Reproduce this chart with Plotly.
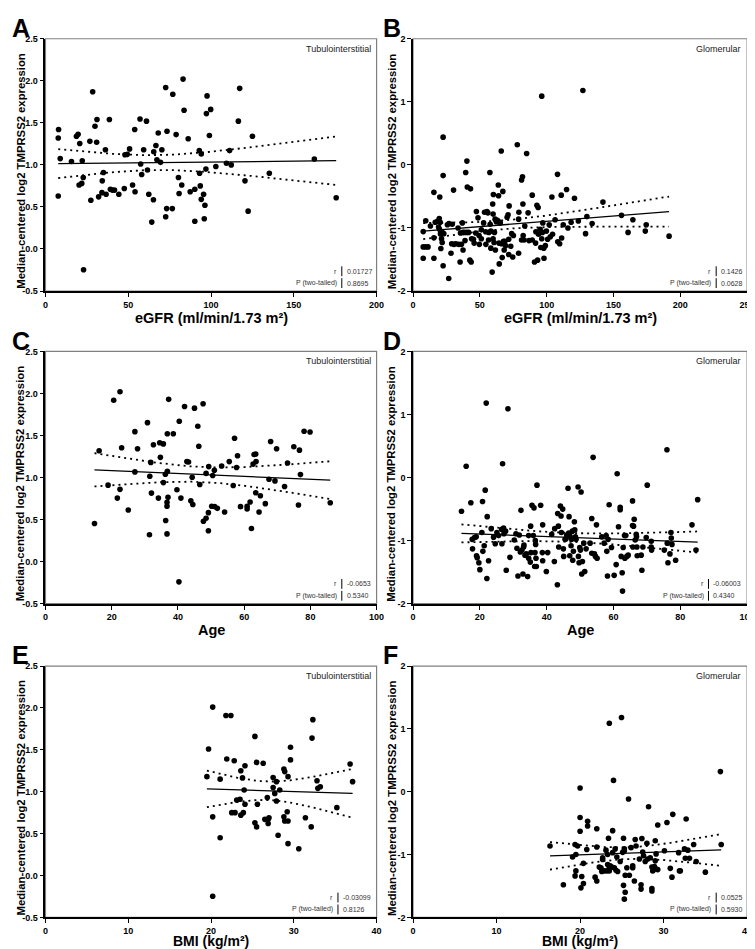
import numpy as np
import plotly.graph_objects as go

# ---------------- data ----------------
a_egfr = [7.9, 7.7, 8.9, 7.7, 15.7, 18.7, 19.7, 20.7, 20.3, 21.9, 22.2, 22.8, 23.0, 26.8, 27.4, 28.5, 29.9, 31.1, 30.9, 32.1,
          34.1, 34.3, 35.0, 36.2, 36.6, 38.6, 39.2, 40.4, 41.7, 44.3, 47.6, 48.0, 49.4, 50.8, 52.6, 54.1, 53.9, 57.1, 57.5, 58.1,
          59.3, 61.0, 61.6, 62.4, 64.2, 65.2, 65.4, 66.7, 67.3, 68.1, 69.5, 70.3, 72.6, 73.4, 72.6, 73.2, 76.6, 76.9, 78.9, 80.3,
          80.7, 82.3, 83.1, 83.7, 86.2, 87.4, 90.2, 90.2, 92.9, 93.1, 93.5, 94.1, 94.1, 95.5, 95.9, 96.3, 96.9, 97.2, 97.6, 99.0,
          99.8, 102.9, 109.3, 111.2, 112.2, 116.5, 117.3, 120.5, 122.4, 125.0, 135.2, 162.4, 175.6]
a_expr = [1.42, 1.32, 1.075, 0.63, 1.04, 1.34, 1.365, 1.255, 0.76, 0.78, 1.05, 0.85, -0.247, 1.28, 0.58, 1.87, 1.46, 1.54, 1.27, 0.62,
          0.67, 0.81, 0.91, 1.18, 0.65, 1.54, 0.71, 0.70, 0.70, 0.65, 0.72, 1.12, 1.125, 1.19, 0.76, 0.68, 1.42, 1.545, 1.01, 0.886,
          1.18, 1.52, 0.94, 0.65, 0.32, 0.585, 1.157, 1.23, 1.06, 1.38, 1.03, 1.18, 1.92, 1.40, 0.384, 0.48, 0.48, 1.84, 1.36, 0.85,
          0.66, 0.76, 2.02, 1.65, 1.31, 0.68, 0.71, 0.33, 1.17, 0.90, 0.75, 1.13, 0.59, 0.65, 0.36, 0.52, 0.95, 1.61, 1.82, 1.35,
          1.66, 0.98, 1.02, 1.17, 1.00, 1.52, 1.91, 0.81, 0.45, 1.34, 0.90, 1.07, 0.61]

b_egfr = [7.6, 7.6, 7.6, 9.5, 9.5, 11.2, 13.0, 15.6, 15.6, 15.6, 16.6, 18.3, 19.1, 19.6, 19.8, 20.0, 20.3, 20.5, 20.8, 21.3,
          21.5, 21.8, 22.5, 22.5, 22.5, 23.0, 26.7, 25.7, 26.9, 28.4, 28.9, 29.3, 30.3, 30.6, 32.0, 33.7, 34.2, 35.2, 35.5, 36.2,
          36.9, 37.2, 37.4, 38.4, 38.9, 39.4, 40.1, 40.3, 40.6, 41.6, 42.5, 43.0, 43.5, 43.8, 45.2, 45.7, 46.9, 47.4, 48.6, 49.4,
          49.6, 51.1, 51.1, 52.8, 53.5, 54.3, 54.5, 55.3, 56.0, 56.5, 56.7, 57.5, 57.7, 58.2, 58.2, 59.2, 59.6, 59.9, 59.9, 60.1,
          60.6, 60.9, 61.4, 61.6, 62.3, 63.1, 63.8, 64.0, 64.0, 64.3, 64.5, 65.3, 66.0, 66.2, 66.7, 67.2, 67.7, 68.2, 68.7, 69.2,
          70.4, 71.1, 71.6, 71.6, 71.9, 73.1, 73.8, 74.6, 75.1, 79.0, 78.0, 79.0, 79.2, 81.2, 81.2, 81.9, 82.2, 82.4, 83.1, 83.6,
          85.0, 86.1, 86.8, 89.2, 89.2, 90.9, 91.7, 91.9, 92.7, 93.2, 93.6, 93.9, 95.1, 95.6, 96.3, 96.3, 96.8, 97.1, 97.8, 98.0,
          99.0, 99.8, 100.7, 101.9, 102.7, 103.9, 104.4, 106.3, 108.1, 108.3, 109.7, 110.9, 111.2, 112.4, 114.9, 115.9, 118.3,
          120.8, 123.7, 127.1, 129.1, 130.1, 134.0, 142.1, 156.0, 160.9, 164.5, 173.8, 174.5, 191.6]
b_expr = [-1.058, -1.30, -1.48, -1.30, -0.885, -1.30, -0.97, -0.435, -1.157, -1.48, -0.91, -0.895, -0.984, -0.85, -1.02, -0.51, -0.91, -1.094, -1.325, -1.17,
          -1.06, -1.23, 0.44, -0.17, -1.60, -1.09, -1.80, -0.95, -0.93, -1.40, -1.25, -0.94, -0.40, -1.26, -1.25, -1.0, -1.26, -1.54, -1.08, -1.26,
          -0.92, -1.07, -1.35, -1.07, -1.20, -0.12, -1.07, 0.06, -0.35, -1.07, -1.51, -0.38, -1.54, -1.17, -1.18, -1.24, -1.08, -0.74, -0.84, -1.12,
          -1.26, -1.17, -1.03, -0.92, -0.75, -1.06, -1.26, -0.74, -0.76, -1.19, -1.07, -0.12, -0.94, -1.32, -1.05, -1.70, -0.62, -0.78, -1.17, -0.47,
          -1.23, -1.07, -0.86, -1.35, -0.90, -0.88, -0.32, -0.49, -0.90, -1.24, -1.57, -0.92, 0.22, -1.25, -1.47, -0.42, -1.21, -1.35, -1.21, -1.28,
          -0.83, -0.79, -1.18, -1.42, -0.65, -1.29, -1.09, -1.46, -1.12, -1.40, 0.32, -0.86, -0.75, -1.19, -0.24, -0.19, -0.62, -1.12, -1.19, -0.97,
          0.18, -0.76, -1.20, -0.48, -1.19, -1.54, -1.24, -1.06, -0.64, -1.51, -0.675, -1.10, -1.02, -1.31, 1.09, -1.17, -1.07, -0.92, -1.32, -1.48,
          -1.28, -1.05, -1.18, -0.95, -1.14, -0.51, -1.10, -0.87, -0.15, -1.22, -1.25, -0.48, -1.16, -0.95, -0.39, -1.0, -0.91,
          -0.53, -0.89, 1.18, -1.09, -0.82, -0.93, -0.59, -0.80, -1.07, -0.87, -1.05, -0.95, -1.13]

c_age = [14.8, 16.2, 18.9, 20.6, 21.7, 22.5, 22.5, 23.0, 25.0, 27.0, 27.0, 27.8, 30.8, 31.4, 31.5, 31.8, 32.0, 32.6, 34.1, 34.5,
         34.7, 35.6, 35.6, 36.2, 36.3, 36.7, 36.7, 36.7, 36.8, 36.8, 37.2, 37.0, 38.6, 39.7, 40.3, 40.4, 40.9, 42.0, 42.7, 43.2,
         43.9, 44.3, 44.5, 45.0, 46.0, 46.3, 46.6, 47.6, 47.7, 48.5, 48.5, 49.2, 49.2, 49.3, 50.2, 50.5, 51.0, 51.1, 51.9, 53.2,
         54.1, 55.5, 56.7, 57.1, 57.7, 58.0, 58.9, 60.9, 60.9, 61.8, 62.2, 62.7, 63.0, 63.5, 63.6, 63.5, 64.5, 64.9, 66.4, 67.5,
         68.0, 69.3, 69.8, 72.2, 73.1, 75.0, 76.4, 76.7, 77.0, 78.1, 79.9, 86.0]
c_expr = [0.454, 1.318, 0.91, 1.92, 0.756, 2.02, 0.86, 1.354, 0.615, 1.546, 1.067, 1.342, 1.653, 0.32, 1.016, 1.18, 0.815, 1.39, 0.756, 1.413,
          1.24, 1.40, 0.94, 1.04, 0.49, 0.33, 0.705, 0.66, 1.075, 1.52, 1.93, 0.765, 1.52, 0.855, -0.24, 1.67, 0.756, 1.845, 1.19, 1.185,
          0.725, 1.004, 0.68, 1.825, 1.61, 1.373, 0.917, 1.877, 0.48, 0.517, 1.05, 0.367, 0.583, 1.13, 0.658, 1.024, 1.087, 0.654, 0.634, 1.138,
          0.59, 1.19, 0.906, 1.468, 1.12, 1.26, 0.654, 0.627, 0.658, 0.71, 0.394, 1.16, 1.275, 1.28, 1.19, 0.82, 0.59, 0.784, 0.69, 0.98,
          1.428, 0.96, 1.342, 0.894, 1.173, 1.366, 0.674, 1.326, 1.035, 1.55, 1.542, 0.70]

d_age = [14.5, 15.9, 17.3, 17.7, 17.8, 18.4, 18.9, 19.0, 19.2, 19.7, 20.0, 20.6, 20.8, 20.9, 21.3, 21.6, 21.9, 22.1, 22.2, 22.6,
         23.4, 24.1, 24.6, 25.1, 25.6, 26.5, 26.6, 26.8, 27.1, 27.2, 27.7, 27.9, 28.4, 29.0, 30.3, 30.8, 31.1, 31.4, 31.8, 32.1,
         32.3, 32.6, 32.9, 33.1, 33.2, 33.5, 33.9, 34.3, 34.6, 34.6, 35.1, 35.2, 35.3, 35.6, 36.0, 36.2, 36.4, 36.5, 36.6, 36.7,
         36.8, 36.9, 37.1, 38.2, 38.7, 38.8, 38.8, 39.9, 40.3, 41.5, 42.3, 42.4, 43.2, 43.3, 43.5, 43.6, 44.1, 44.3, 44.4, 44.8,
         45.0, 45.1, 45.5, 45.8, 46.0, 46.4, 46.6, 46.7, 46.9, 47.0, 47.3, 47.5, 47.7, 47.8, 48.0, 48.3, 48.4, 48.6, 48.8, 49.4,
         49.5, 49.7, 49.9, 50.1, 50.3, 50.5, 50.7, 51.1, 51.4, 51.8, 53.0, 53.5, 53.5, 53.9, 54.3, 54.6, 54.9, 55.1, 56.5, 57.2,
         57.8, 58.0, 58.2, 58.4, 58.7, 59.4, 60.2, 60.8, 61.1, 61.5, 62.0, 62.0, 62.3, 62.6, 62.7, 62.9, 63.3, 63.4, 63.7, 64.0,
         64.4, 65.7, 65.7, 65.8, 66.0, 66.2, 66.5, 66.8, 66.9, 67.0, 67.1, 68.3, 68.5, 68.8, 69.8, 70.1, 71.3, 71.4, 71.3, 75.2,
         76.0, 76.1, 76.3, 76.9, 77.2, 77.3, 77.5, 78.6, 83.5, 84.7, 85.2]
d_expr = [-0.535, 0.18, -0.40, -0.98, -1.13, -0.95, -0.94, -1.24, -1.27, -1.35, -1.46, -0.87, -0.38, -1.17, -1.08, -0.20, 1.18, -1.60, -0.62, -1.32,
          -0.81, -0.945, -1.05, -0.87, -0.92, -0.82, -1.05, 0.22, -0.80, -0.89, -0.85, -1.47, 1.09, -1.265, -0.99, -0.89, -1.12, -1.56, -0.91, -1.18,
          -0.52, -1.15, -1.53, -1.10, -1.07, -1.23, -1.21, -1.57, -0.92, -1.28, -1.34, -0.77, -1.19, -0.44, -0.92, -0.48, -1.41, -1.19, -1.00, -1.06,
          -1.28, -1.41, -0.12, -0.44, -1.19, -0.75, -1.32, -1.49, -1.19, -0.90, -1.33, -0.81, -1.70, -0.57, -0.77, -1.10, -0.45, -0.61, -0.87, -0.50,
          -1.13, -1.25, -0.98, -0.97, -0.91, -0.17, -0.88, -0.62, -1.24, -0.93, -1.08, -0.98, -0.85, -1.31, -1.17, -0.70, -0.83, -0.94, -0.98, -0.15,
          -1.25, -1.35, -1.11, -1.15, -0.23, -1.53, -1.33, -1.04, -1.49, -1.13, -1.04, -1.20, -0.65, 0.32, -1.21, -1.25, -0.75, -1.28, -0.94, -1.04,
          -0.92, -1.17, -1.56, -0.98, -0.43, -1.11, -1.55, -1.38, 0.06, -0.78, -0.47, -0.51, -1.25, -1.51, -1.80, -1.11, -0.92, -1.28, -0.92, -1.25,
          -1.23, -0.37, -0.76, -1.10, -0.77, -0.66, -0.99, -0.90, -0.94, -1.10, -1.24, -1.23, -1.47, -1.10, -0.95, -0.12, -1.10, -1.15, -1.01, -1.15,
          0.44, -1.04, -1.35, -1.21, -0.87, -0.96, -1.06, -1.31, -0.75, -1.15, -0.35]

e_bmi = [20.2, 19.7, 19.5, 20.2, 20.2, 21.1, 21.1, 21.8, 21.9, 22.4, 22.5, 22.8, 22.9, 23.1, 23.5, 23.6, 23.6, 23.8, 23.9, 24.0,
         24.1, 24.1, 25.3, 25.3, 25.5, 25.5, 25.6, 26.3, 26.5, 26.8, 26.9, 26.9, 27.0, 27.5, 27.5, 27.7, 27.9, 27.9, 28.1, 28.3,
         28.8, 28.9, 28.8, 28.9, 29.2, 29.3, 29.3, 29.3, 29.6, 29.6, 30.6, 31.4, 32.1, 32.2, 32.3, 32.8, 32.9, 33.2, 35.2, 36.8, 37.1]
e_expr = [2.01, 1.51, 1.18, 0.70, -0.247, 1.15, 0.45, 1.91, 1.39, 1.91, 0.75, 1.37, 0.75, 0.90, 0.91, 1.25, 0.72, 1.165, 0.75, 1.02,
          1.31, 0.85, 1.66, 0.63, 1.35, 0.58, 0.85, 1.34, 0.67, 0.93, 0.67, 0.62, 0.69, 1.17, 1.05, 0.98, 1.12, 0.89, 0.48, 1.02,
          1.27, 1.24, 0.70, 0.65, 0.76, 1.18, 0.65, 0.38, 1.53, 1.38, 0.32, 0.69, 0.58, 1.64, 1.86, 1.13, 1.04, 1.06, 0.81, 1.33, 1.12]

f_bmi = [16.4, 18.0, 19.1, 19.4, 19.5, 19.4, 19.5, 19.7, 20.0, 20.0, 20.0, 20.1, 20.2, 20.4, 20.4, 20.8, 20.9, 20.9, 22.0, 22.0,
         21.8, 22.0, 22.3, 22.5, 22.6, 22.7, 22.7, 22.9, 23.1, 23.2, 23.3, 23.3, 23.4, 23.5, 23.5, 23.6, 23.5, 23.8, 23.9, 23.9,
         24.0, 24.1, 24.2, 24.3, 24.4, 24.5, 24.8, 24.96, 25.1, 25.2, 25.2, 25.3, 25.3, 25.3, 25.4, 25.4, 25.6, 25.8, 25.9, 26.1,
         26.3, 26.3, 26.5, 26.6, 26.7, 27.1, 27.3, 27.3, 27.4, 27.5, 27.6, 27.8, 28.0, 28.1, 28.2, 28.4, 28.6, 28.6, 28.6, 28.7,
         28.9, 29.0, 29.0, 29.1, 29.1, 29.3, 29.3, 30.1, 30.4, 30.8, 31.0, 31.1, 31.8, 31.9, 32.0, 32.5, 32.6, 32.7, 32.9, 33.1,
         33.6, 33.9, 35.0, 36.8, 36.9]
f_expr = [-0.865, -1.48, -1.04, -0.84, -1.26, -1.34, -1.00, -0.865, 0.06, -0.41, -0.63, -1.53, -1.35, -1.14, -1.46, -0.92, -0.47, -0.545, -0.59, -0.88,
          -1.36, -1.42, -1.20, -1.21, -1.27, -1.05, -1.08, -1.26, -0.93, -1.26, -1.16, -1.00, -0.74, -1.26, -1.195, -1.18, 1.09, -1.20, -0.97, -0.62,
          0.18, -1.21, -0.91, -1.25, -1.04, -1.27, -1.11, 1.18, -0.965, -1.49, -0.74, -1.71, -0.94, -0.91, -1.33, -1.60, -1.21, -0.115, -1.33, -0.89,
          -1.18, -1.21, -1.42, -0.76, -0.865, -1.07, -1.48, -1.55, -0.745, -0.96, -1.02, -1.11, -0.82, -1.07, -0.24, -1.05, -1.20, -1.54, -1.58, -1.26,
          -1.19, -0.78, -1.10, -0.99, -1.23, -1.24, -0.53, -0.94, -0.49, -1.22, -1.36, -0.36, -0.97, -1.26, -1.26, -0.91, -1.06, -0.435, -0.93, -1.06,
          -0.84, -1.11, -1.28, 0.32, -0.84]

# tick labels
ti_ytickvals = [-0.5, 0.0, 0.5, 1.0, 1.5, 2.0, 2.5]
ti_yticktext = ["-0.5", "0.0", "0.5", "1.0", "1.5", "2.0", "2.5"]
gl_ytickvals = [-2, -1, 0, 1, 2]
gl_yticktext = ["-2", "-1", "0", "1", "2"]

panel_letters = ["A", "B", "C", "D", "E", "F"]
tissues = ["Tubulointerstitial", "Glomerular", "Tubulointerstitial", "Glomerular", "Tubulointerstitial", "Glomerular"]
x_titles = ["eGFR (ml/min/1.73 m²)", "eGFR (ml/min/1.73 m²)", "Age", "Age", "BMI (kg/m²)", "BMI (kg/m²)"]
r_text = ["0.01727", "0.1426", "-0.0653", "-0.06003", "-0.03099", "0.0525"]
p_text = ["0.8695", "0.0628", "0.5340", "0.4340", "0.8126", "0.5930"]
y_title = "Median-centered log2 TMPRSS2 expression"

xs = [a_egfr, b_egfr, c_age, d_age, e_bmi, f_bmi]
ys = [a_expr, b_expr, c_expr, d_expr, e_expr, f_expr]

# ---------------- layout geometry (pixels) ----------------
W, H = 755, 949
cols = [(35, 371), (408, 747)]
rows = [(26, 281), (342, 597), (660, 914)]
x_ranges = [[0, 200], [0, 250], [0, 100], [0, 100], [0, 40], [0, 40]]
x_dticks = [50, 50, 20, 20, 10, 10]

FONT = "Liberation Sans Narrow, Arial Narrow, Liberation Sans, Arial, sans-serif"
FONT_REG = "Liberation Sans, Arial, sans-serif"


def px(x):
    return x / W


def py(y):
    return 1 - y / H


def t975(df):
    z = 1.959964
    g1 = (z ** 3 + z) / 4
    g2 = (5 * z ** 5 + 16 * z ** 3 + 3 * z) / 96
    g3 = (3 * z ** 7 + 19 * z ** 5 + 17 * z ** 3 - 15 * z) / 384
    return z + g1 / df + g2 / df ** 2 + g3 / df ** 3


fig = go.Figure()
annotations = []
shapes = []

for i in range(6):
    r, c = divmod(i, 2)
    left, right = cols[c]
    top, bottom = rows[r]
    ax = "" if i == 0 else str(i + 1)
    xref, yref = "x" + ax, "y" + ax
    glom = (c == 1)

    x = np.array(xs[i], dtype=float)
    y = np.array(ys[i], dtype=float)
    n = len(x)
    xbar = x.mean()
    sxx = ((x - xbar) ** 2).sum()
    slope = ((x - xbar) * (y - y.mean())).sum() / sxx
    icpt = y.mean() - slope * xbar
    resid = y - (icpt + slope * x)
    s = np.sqrt((resid ** 2).sum() / (n - 2))
    xg = np.linspace(x.min(), x.max(), 120)
    yg = icpt + slope * xg
    half = t975(n - 2) * s * np.sqrt(1.0 / n + (xg - xbar) ** 2 / sxx)

    dot_style = dict(color="black", width=1.8, dash="2px,4px")
    fig.add_trace(go.Scatter(x=xg, y=yg + half, mode="lines", line=dot_style,
                             xaxis=xref, yaxis=yref, showlegend=False, hoverinfo="skip"))
    fig.add_trace(go.Scatter(x=xg, y=yg - half, mode="lines", line=dot_style,
                             xaxis=xref, yaxis=yref, showlegend=False, hoverinfo="skip"))
    fig.add_trace(go.Scatter(x=xg, y=yg, mode="lines", line=dict(color="black", width=1.3),
                             xaxis=xref, yaxis=yref, showlegend=False, hoverinfo="skip"))
    fig.add_trace(go.Scatter(x=x, y=y, mode="markers",
                             marker=dict(color="black", size=5.6, line=dict(width=0)),
                             xaxis=xref, yaxis=yref, showlegend=False))

    xa = dict(domain=[px(left), px(right)], range=x_ranges[i], dtick=x_dticks[i], tick0=0,
              anchor=yref, showline=True, linecolor="black", linewidth=1.6,
              ticks="outside", ticklen=4, tickwidth=1.3, tickcolor="black",
              showgrid=False, zeroline=False,
              tickfont=dict(family=FONT, size=9, color="black", weight="bold"))
    ya = dict(domain=[py(bottom), py(top)],
              range=[-2, 2] if glom else [-0.5, 2.5],
              tickvals=gl_ytickvals if glom else ti_ytickvals,
              ticktext=gl_yticktext if glom else ti_yticktext,
              anchor=xref, showline=True, linecolor="black", linewidth=1.6,
              ticks="outside", ticklen=4, tickwidth=1.3, tickcolor="black",
              showgrid=False, zeroline=False,
              tickfont=dict(family=FONT, size=9, color="black", weight="bold"))
    fig.update_layout(**{"xaxis" + ax: xa, "yaxis" + ax: ya})

    # frame (top/right in gray)
    shapes.append(dict(type="rect", xref="paper", yref="paper",
                       x0=px(left), x1=px(right), y0=py(bottom), y1=py(top),
                       line=dict(color="#808080", width=1.2), layer="below"))

    # panel letter
    annotations.append(dict(text="<b>%s</b>" % panel_letters[i], x=px(left - 35 if c == 0 else left - 32),
                            y=py(top - 26), xref="paper", yref="paper", xanchor="left", yanchor="top",
                            showarrow=False, borderpad=0, font=dict(family=FONT_REG, size=25, color="black")))
    # tissue label
    annotations.append(dict(text=tissues[i], x=px(right - 4), y=py(top + 10), xref="paper", yref="paper",
                            xanchor="right", yanchor="middle", showarrow=False,
                            font=dict(family=FONT_REG, size=9, color="#222222")))
    # y title
    annotations.append(dict(text="<b>%s</b>" % y_title, x=px(10 if c == 0 else 386),
                            y=py((top + bottom) / 2 + 6), xref="paper", yref="paper",
                            xanchor="center", yanchor="middle", textangle=-90, showarrow=False,
                            borderpad=0, font=dict(family=FONT_REG, size=11.3, color="black")))
    # x title
    annotations.append(dict(text="<b>%s</b>" % x_titles[i], x=px((left + right) / 2),
                            y=py(min(bottom + 27, H - 11)), xref="paper", yref="paper",
                            xanchor="center", yanchor="middle", showarrow=False, borderpad=0,
                            font=dict(family=FONT, size=14.5 if r < 2 else 14, color="black")))
    # stats box
    longest = max(len(r_text[i]), len(p_text[i]))
    sep = right - (8 + 3.9 * longest)
    for lab, val, yy in (("r", r_text[i], bottom - 20), ("P (two-tailed)", p_text[i], bottom - 8)):
        annotations.append(dict(text=lab, x=px(sep - 4), y=py(yy), xref="paper", yref="paper",
                                xanchor="right", yanchor="middle", showarrow=False, borderpad=0,
                                font=dict(family=FONT_REG, size=7, color="#333333")))
        annotations.append(dict(text=val, x=px(sep + 4), y=py(yy), xref="paper", yref="paper",
                                xanchor="left", yanchor="middle", showarrow=False, borderpad=0,
                                font=dict(family=FONT_REG, size=7, color="#333333")))
        shapes.append(dict(type="line", xref="paper", yref="paper", x0=px(sep), x1=px(sep),
                           y0=py(yy - 5), y1=py(yy + 5), line=dict(color="black", width=1)))

fig.update_layout(width=W, height=H, margin=dict(l=0, r=0, t=0, b=0),
                  paper_bgcolor="white", plot_bgcolor="white",
                  annotations=annotations, shapes=shapes, showlegend=False)

fig.write_html("out.html")
